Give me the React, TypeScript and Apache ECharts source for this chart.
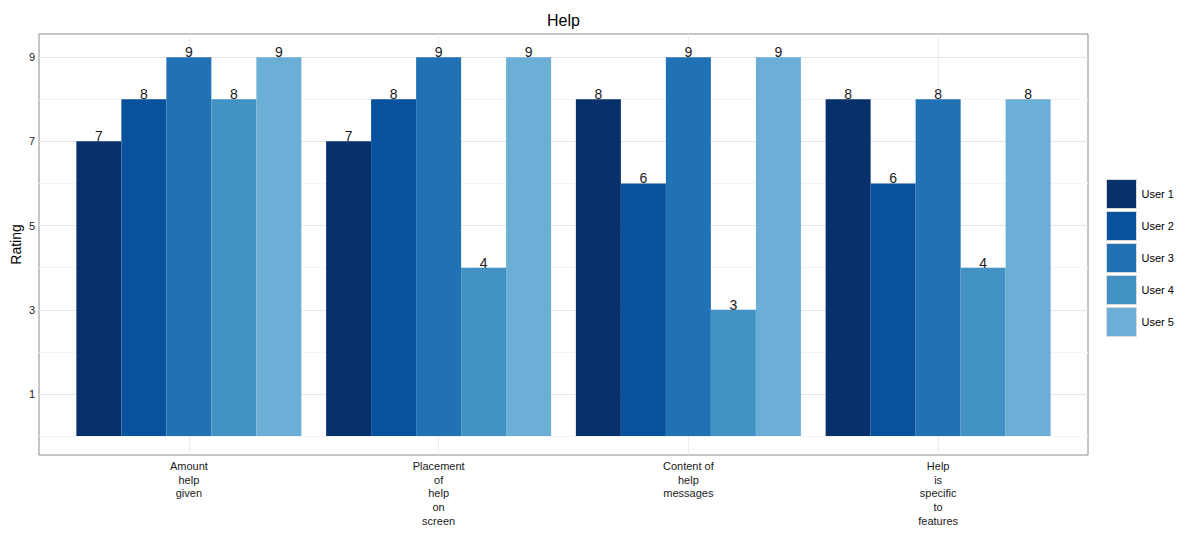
import React, { useEffect, useRef } from "react";
import * as echarts from "echarts";

// Survey ratings for the "Help" section, one array per respondent
const categories = [
  "Amount\nhelp\ngiven",
  "Placement\nof\nhelp\non\nscreen",
  "Content of\nhelp\nmessages",
  "Help\nis\nspecific\nto\nfeatures",
];
const users = ["User 1", "User 2", "User 3", "User 4", "User 5"];
const user1 = [7, 7, 8, 8];
const user2 = [8, 8, 6, 6];
const user3 = [9, 9, 9, 8];
const user4 = [8, 4, 3, 4];
const user5 = [9, 9, 9, 8];
const ratings = [user1, user2, user3, user4, user5];
const colors = ["#08306B", "#08519C", "#2171B5", "#4292C6", "#6BAED6"];
const majorTicks = [1, 3, 5, 7, 9];
const minorTicks = [0, 2, 4, 6, 8];
const catPositions = [1, 2, 3, 4];

const FONT = "Liberation Sans, Arial, sans-serif";

export default function App() {
  const ref = useRef<HTMLDivElement>(null);

  useEffect(() => {
    if (!ref.current) return;
    const chart = echarts.init(ref.current, null, { renderer: "svg" });

    const gridLines = [
      ...minorTicks.map((v) => ({ yAxis: v, lineStyle: { color: "#f4f4f4", width: 1, type: "solid" } })),
      ...majorTicks.map((v) => ({ yAxis: v, lineStyle: { color: "#e6e6e6", width: 1, type: "solid" } })),
      ...catPositions.map((v) => ({ xAxis: v, lineStyle: { color: "#ececec", width: 1, type: "solid" } })),
    ];

    const barSeries = users.map((name, i) => ({
      name,
      type: "bar",
      data: ratings[i].map((v, j) => [catPositions[j], v]),
      barWidth: 45,
      barGap: "0%",
      itemStyle: { color: colors[i] },
      label: {
        show: true,
        position: "top",
        distance: -2,
        fontSize: 14,
        fontFamily: FONT,
        color: "#1a1a1a",
        formatter: (p: any) => String(p.value[1]),
      },
      z: 3,
    }));

    chart.setOption({
      animation: false,
      textStyle: { fontFamily: FONT },
      grid: {
        left: 39,
        top: 34,
        width: 1049,
        height: 421,
        show: true,
        borderColor: "#8c8c8c",
        borderWidth: 1,
        backgroundColor: "#ffffff",
        containLabel: false,
        outerBoundsMode: "none",
      },
      graphic: [
        {
          type: "text",
          x: 563.5,
          y: 20,
          style: {
            text: "Help",
            fontSize: 16,
            fontFamily: FONT,
            fill: "#000000",
            textAlign: "center",
            textVerticalAlign: "middle",
          },
        },
      ],
      legend: {
        orient: "vertical",
        left: 1106,
        top: 179,
        padding: 0,
        itemWidth: 30,
        itemHeight: 29,
        itemGap: 2,
        icon: "rect",
        data: users,
        itemStyle: { borderColor: "#d9d9d9", borderWidth: 1 },
        textStyle: { fontSize: 11, fontFamily: FONT, color: "#000000" },
        selectedMode: false,
      },
      xAxis: {
        type: "value",
        min: 0.4,
        max: 4.6,
        axisLine: { show: false },
        axisTick: { show: false, customValues: catPositions },
        splitLine: { show: false },
        axisLabel: {
          customValues: catPositions,
          margin: 4,
          fontSize: 11,
          lineHeight: 13.7,
          fontFamily: FONT,
          color: "#1a1a1a",
          align: "center",
          verticalAlign: "top",
          formatter: (v: number) => categories[Math.round(v) - 1] ?? "",
        },
      },
      yAxis: {
        type: "value",
        min: -0.45,
        max: 9.55,
        name: "Rating",
        nameLocation: "middle",
        nameRotate: 90,
        nameGap: 16,
        nameMoveOverlap: false,
        nameTextStyle: { fontSize: 14, fontFamily: FONT, color: "#000000" },
        axisLine: { show: false },
        axisTick: { show: false, customValues: majorTicks },
        splitLine: { show: false },
        axisLabel: {
          customValues: majorTicks,
          margin: 4,
          fontSize: 11,
          fontFamily: FONT,
          color: "#1a1a1a",
        },
      },
      series: [
        {
          name: "grid",
          type: "line",
          data: [],
          silent: true,
          z: 1,
          markLine: {
            silent: true,
            z: 1,
            symbol: ["none", "none"],
            label: { show: false },
            animation: false,
            data: gridLines,
          },
        },
        ...barSeries,
      ],
    });

    return () => chart.dispose();
  }, []);

  return (
    <div
      ref={ref}
      style={{ position: "fixed", left: 0, top: 0, width: 1188, height: 535, background: "#ffffff" }}
    />
  );
}
